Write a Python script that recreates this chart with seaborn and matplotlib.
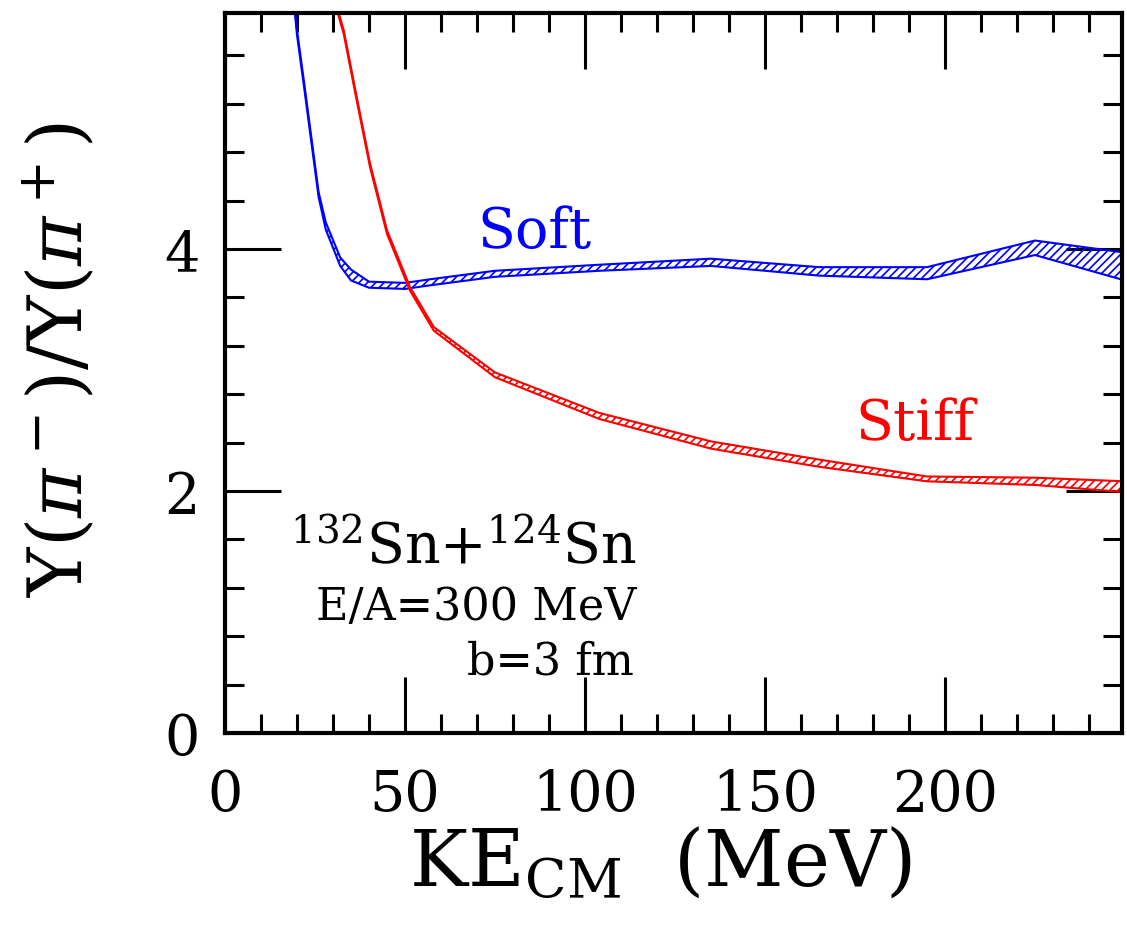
import numpy as np
import pandas as pd
import matplotlib
matplotlib.use("Agg")
import matplotlib.pyplot as plt
from matplotlib.ticker import MultipleLocator
import seaborn as sns

# ---- data ----
soft_ke = [19, 20, 22, 24, 26, 28, 32, 35, 40, 50, 57, 75, 104, 135, 165, 195, 225, 250]
soft_lo = [6.08, 5.77, 5.33, 4.88, 4.43, 4.16, 3.86, 3.74, 3.68, 3.67, 3.70, 3.77, 3.82, 3.86, 3.78, 3.75, 3.95, 3.74]
soft_hi = [6.12, 5.81, 5.37, 4.92, 4.47, 4.22, 3.93, 3.83, 3.73, 3.72, 3.75, 3.82, 3.87, 3.92, 3.85, 3.85, 4.07, 3.97]

stiff_ke = [30.5, 33, 36.6, 40.3, 45, 51.4, 58, 75, 104, 135, 165, 195, 225, 250]
stiff_lo = [6.035, 5.775, 5.225, 4.675, 4.125, 3.655, 3.325, 2.94, 2.595, 2.35, 2.20, 2.08, 2.05, 1.99]
stiff_hi = [6.065, 5.805, 5.255, 4.705, 4.155, 3.685, 3.355, 2.98, 2.645, 2.41, 2.26, 2.12, 2.11, 2.08]

x_ticks = [0, 50, 100, 150, 200]
y_ticks = [0, 2, 4]

sns.set_theme(style="ticks")
plt.rcParams['font.family'] = ['DejaVu Serif']
plt.rcParams['mathtext.fontset'] = 'dejavuserif'
plt.rcParams['hatch.linewidth'] = 1.2
for k in ["text.color", "axes.labelcolor", "xtick.color", "ytick.color",
          "xtick.labelcolor", "ytick.labelcolor"]:
    plt.rcParams[k] = "black"

fig = plt.figure(figsize=(11.27, 9.29), dpi=100)
ax = fig.add_axes([225 / 1127, 1 - 734 / 929, 897 / 1127, 720 / 929])

bands = [
    ("Soft", soft_ke, soft_lo, soft_hi, "#0000ff"),
    ("Stiff", stiff_ke, stiff_lo, stiff_hi, "#ff0000"),
]
for name, ke, lo, hi, col in bands:
    df = pd.DataFrame({"ke": ke, "lo": lo, "hi": hi})
    ax.fill_between(df["ke"], df["lo"], df["hi"], facecolor="none",
                    edgecolor=col, hatch="////", linewidth=0)
    sns.lineplot(data=df, x="ke", y="lo", color=col, lw=1.5, ax=ax,
                 sort=False, estimator=None)
    sns.lineplot(data=df, x="ke", y="hi", color=col, lw=1.5, ax=ax,
                 sort=False, estimator=None)

ax.set_xlim(0, 897 / 3.6)
ax.set_ylim(0, 720 / 121)
ax.set_xticks(x_ticks)
ax.set_yticks(y_ticks)
ax.xaxis.set_minor_locator(MultipleLocator(10))
ax.yaxis.set_minor_locator(MultipleLocator(0.4))
ax.tick_params(which="both", direction="in", top=True, right=True,
               color="black", width=2.2)
ax.tick_params(which="major", length=40, labelsize=40, labelcolor="black")
ax.tick_params(which="minor", length=14)
ax.tick_params(axis="x", which="major", pad=25)
ax.tick_params(axis="y", which="major", pad=18)
for sp in ax.spines.values():
    sp.set_linewidth(3)
    sp.set_color("black")

ax.set_xlabel(r"KE$_{\rm CM}$  (MeV)", fontsize=56, color="black")
ax.xaxis.set_label_coords(0.485, -0.128)
ax.set_ylabel(r"Y($\pi^-$)/Y($\pi^+$)", fontsize=54, color="black")
ax.yaxis.set_label_coords(-0.14, 0.52)

ax.text(70, 4.02, "Soft", color="#0000ff", fontsize=40, ha="left", va="baseline")
ax.text(175, 2.43, "Stiff", color="#ff0000", fontsize=40, ha="left", va="baseline")
ax.text(114.4, 1.40, r"$^{132}$Sn+$^{124}$Sn", fontsize=40, ha="right", va="baseline")
ax.text(114.4, 0.94, "E/A=300 MeV", fontsize=32, ha="right", va="baseline")
ax.text(113.5, 0.49, "b=3 fm", fontsize=32, ha="right", va="baseline")

fig.savefig("out.png", dpi=100)
